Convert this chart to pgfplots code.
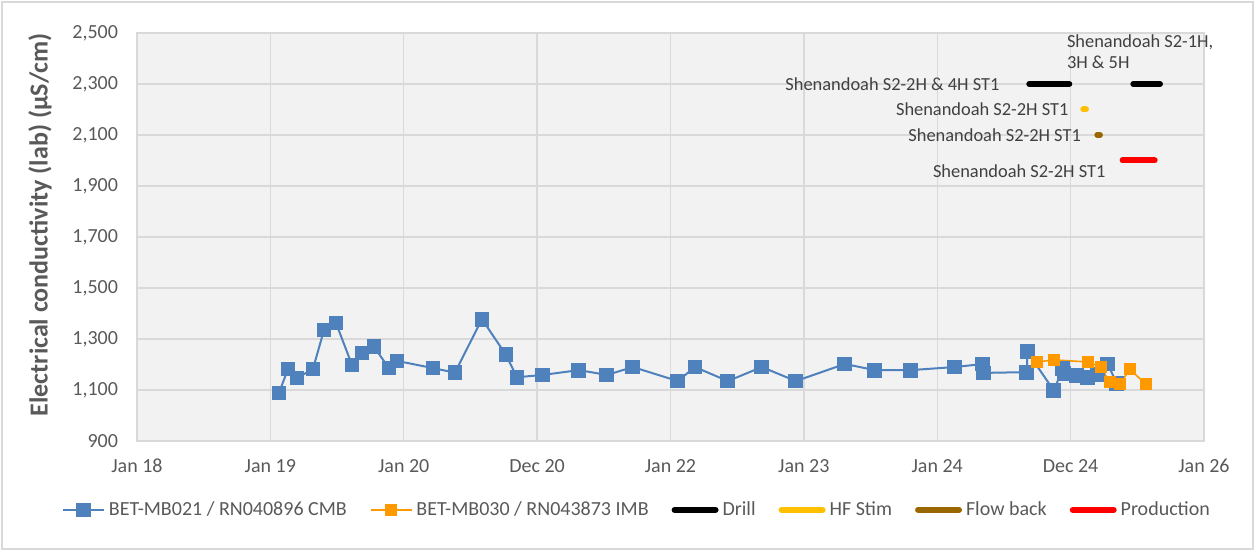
\documentclass[border=0pt]{standalone}
\usepackage{fontspec}
\setmainfont{Carlito}
\usepackage{pgfplots}
\pgfplotsset{compat=1.18}
\definecolor{cblue}{HTML}{4F81BD}
\definecolor{corange}{HTML}{FF9900}
\definecolor{cyellow}{HTML}{FFC000}
\definecolor{cbrown}{HTML}{996600}
\definecolor{cgrid}{HTML}{D9D9D9}
\definecolor{cbg}{HTML}{F2F2F2}
\definecolor{ctext}{HTML}{595959}
\definecolor{clabel}{HTML}{404040}
\begin{document}
\begin{tikzpicture}
\path[use as bounding box] (0,0) rectangle (627.5pt,275.5pt);
\draw[cgrid, line width=0.8pt] (1pt,1pt) rectangle (626.5pt,274.5pt);
\begin{axis}[
  at={(68.5pt,55pt)}, anchor=south west,
  scale only axis, width=533.5pt, height=204pt,
  xmin=0, xmax=8, ymin=900, ymax=2500,
  xtick={0,1,2,3,4,5,6,7,8},
  xticklabels={Jan 18,Jan 19,Jan 20,Dec 20,Jan 22,Jan 23,Jan 24,Dec 24,Jan 26},
  ytick={900,1100,1300,1500,1700,1900,2100,2300,2500},
  /pgf/number format/.cd, 1000 sep={,}, assume math mode=true, /pgfplots/.cd,
  grid=major, major grid style={cgrid, line width=0.7pt},
  axis line style={cgrid, line width=0.7pt},
  major tick length=0pt,
  axis background/.style={fill=cbg},
  tick label style={font=\fontsize{10}{12}\selectfont, text=ctext},
  xticklabel style={yshift=-5.5pt},
  yticklabel style={xshift=-6pt},
  ylabel={\textbf{Electrical conductivity (lab) (µS/cm)}},
  every axis y label/.style={at={(axis description cs:-0.091,0.53)}, rotate=90, anchor=center, font=\fontsize{13}{15}\selectfont, text=ctext},
  legend columns=6,
  legend style={at={(0.4695,-0.169)}, anchor=center, draw=none, fill=none,
    font=\fontsize{10}{12}\selectfont, text=ctext,
    /tikz/every even column/.append style={column sep=9.5pt}},
  legend image code/.code={\draw[mark repeat=2,mark phase=2,#1] plot coordinates {(0cm,0cm) (0.36cm,0cm) (0.72cm,0cm)};},
  legend cell align=left,
  clip=false,
]
\addplot[cblue, line width=1pt, mark=square*, mark size=3.2pt, mark options={fill=cblue, draw=cblue}] coordinates {
(1.064,1088) (1.132,1182) (1.199,1147) (1.319,1182) (1.402,1335) (1.492,1363)
(1.612,1198) (1.687,1245) (1.777,1269) (1.889,1186) (1.949,1214) (2.219,1186)
(2.384,1168) (2.586,1378) (2.766,1238) (2.849,1150) (3.043,1159) (3.313,1178)
(3.523,1159) (3.718,1190) (4.055,1135) (4.183,1190) (4.430,1135) (4.685,1190)
(4.940,1135) (5.307,1202) (5.532,1178) (5.802,1178) (6.132,1190) (6.342,1202)
(6.345,1167) (6.672,1170) (6.675,1250) (6.874,1098) (6.942,1185) (6.950,1165)
(7.046,1157) (7.129,1150) (7.204,1162) (7.279,1202) (7.346,1125)
};
\addlegendentry{BET-MB021 / RN040896 CMB}
\addplot[corange, line width=0.8pt, mark=square*, mark size=2.6pt, mark options={fill=corange, draw=corange}] coordinates {
(6.747,1210) (6.874,1218) (7.129,1210) (7.226,1190) (7.294,1130) (7.369,1122) (7.444,1182) (7.564,1122)
};
\addlegendentry{BET-MB030 / RN043873 IMB}
\addplot[black, line width=3pt, line cap=round, forget plot] coordinates {(6.69,2300) (6.99,2300)};
\addplot[black, line width=3pt, line cap=round] coordinates {(7.47,2300) (7.67,2300)};
\addlegendentry{Drill}
\addplot[cyellow, line width=3pt, line cap=round] coordinates {(7.095,2200) (7.115,2200)};
\addlegendentry{HF Stim}
\addplot[cbrown, line width=3pt, line cap=round] coordinates {(7.20,2100) (7.22,2100)};
\addlegendentry{Flow back}
\addplot[red, line width=3pt, line cap=round] coordinates {(7.39,2000) (7.63,2000)};
\addlegendentry{Production}
\node[anchor=east, font=\fontsize{9.2}{11}\selectfont, text=clabel, inner sep=0pt] at (axis cs:6.47,2300) {Shenandoah S2-2H \& 4H ST1};
\node[anchor=east, font=\fontsize{9.2}{11}\selectfont, text=clabel, inner sep=0pt] at (axis cs:6.987,2200) {Shenandoah S2-2H ST1};
\node[anchor=east, font=\fontsize{9.2}{11}\selectfont, text=clabel, inner sep=0pt] at (axis cs:7.08,2100) {Shenandoah S2-2H ST1};
\node[anchor=east, font=\fontsize{9.2}{11}\selectfont, text=clabel, inner sep=0pt] at (axis cs:7.264,1959) {Shenandoah S2-2H ST1};
\node[anchor=west, align=left, font=\fontsize{9.2}{10.3}\selectfont, text=clabel, inner sep=0pt] at (axis cs:6.97,2427) {Shenandoah S2-1H,\\3H \& 5H};
\end{axis}
\end{tikzpicture}
\end{document}
